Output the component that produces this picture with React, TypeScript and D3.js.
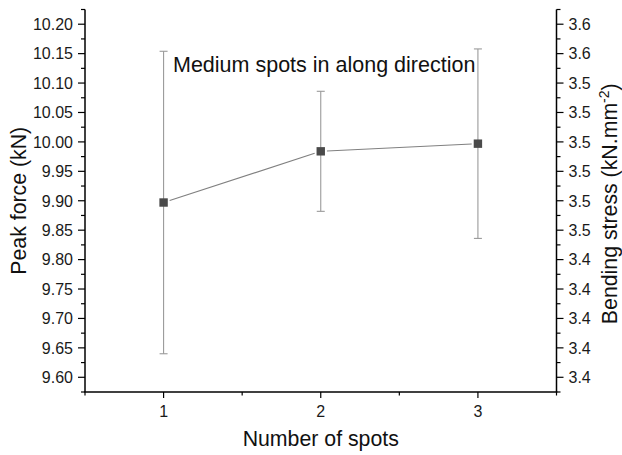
import React from "react";
import * as d3 from "d3";

// Mean peak force per number of spots, with standard deviation
const spots = [1, 2, 3];
const peakForce = [9.897, 9.984, 9.997];
const forceError = [0.257, 0.102, 0.161];

// Left axis ticks (kN) and matching bending-stress labels on the right axis
const forceTicks = [9.6, 9.65, 9.7, 9.75, 9.8, 9.85, 9.9, 9.95, 10.0, 10.05, 10.1, 10.15, 10.2];
const stressTickLabels = ["3.4", "3.4", "3.4", "3.4", "3.4", "3.5", "3.5", "3.5", "3.5", "3.5", "3.5", "3.6", "3.6"];
const spotTicks = [1, 2, 3];

const W = 622;
const H = 455;
const left = 85;
const right = 556.5;
const top = 9.5;
const bottom = 392;
const FONT = "'Liberation Sans', Arial, sans-serif";

export default function App() {
  const x = d3.scaleLinear().domain([0.5, 3.5]).range([left, right]);
  const y = d3.scaleLinear().domain([9.575, 10.225]).range([bottom, top]);

  const minorY = d3.range(0, 27).map((i) => 9.575 + i * 0.025).filter((v, i) => i % 2 === 0);
  const minorX = [0.5, 1.5, 2.5, 3.5];

  const pts = spots.map((s, i) => ({ px: x(s), py: y(peakForce[i]) }));
  const half = 4.2;
  const gap = 2;
  const segments = pts.slice(1).map((p, i) => {
    const a = pts[i];
    const dx = p.px - a.px;
    const dy = p.py - a.py;
    const len = Math.hypot(dx, dy);
    const ux = dx / len;
    const uy = dy / len;
    const off = half / Math.max(Math.abs(ux), Math.abs(uy)) + gap;
    return {
      x1: a.px + ux * off,
      y1: a.py + uy * off,
      x2: p.px - ux * off,
      y2: p.py - uy * off,
    };
  });

  return (
    <svg
      width={W}
      height={H}
      style={{ position: "absolute", left: 0, top: 0, background: "#fff" }}
      fontFamily={FONT}
    >
      {/* error bars */}
      {spots.map((s, i) => {
        const cx = x(s);
        const y1 = y(peakForce[i] + forceError[i]);
        const y2 = y(peakForce[i] - forceError[i]);
        return (
          <g key={"e" + i} stroke="#9a9a9a" strokeWidth={1.1}>
            <line x1={cx} x2={cx} y1={y1} y2={y2} />
            <line x1={cx - 4} x2={cx + 4} y1={y1} y2={y1} />
            <line x1={cx - 4} x2={cx + 4} y1={y2} y2={y2} />
          </g>
        );
      })}

      {/* connecting line */}
      {segments.map((sg, i) => (
        <line key={"l" + i} {...sg} stroke="#808080" strokeWidth={1.1} />
      ))}

      {/* markers */}
      {pts.map((p, i) => (
        <rect key={"m" + i} x={p.px - half} y={p.py - half} width={half * 2} height={half * 2} fill="#4a4a4a" />
      ))}

      {/* axes frame */}
      <g stroke="#000" strokeWidth={1.5} fill="none">
        <line x1={left} x2={left} y1={top} y2={bottom} />
        <line x1={right} x2={right} y1={top} y2={bottom} />
        <line x1={left - 0.75} x2={right + 0.75} y1={bottom} y2={bottom} />
      </g>

      {/* left & right ticks */}
      <g stroke="#000" strokeWidth={1.2}>
        {forceTicks.map((t) => (
          <g key={"yt" + t}>
            <line x1={left - 7} x2={left} y1={y(t)} y2={y(t)} />
            <line x1={right} x2={right + 7} y1={y(t)} y2={y(t)} />
          </g>
        ))}
        {minorY.map((t) => (
          <g key={"ym" + t}>
            <line x1={left - 4} x2={left} y1={y(t)} y2={y(t)} />
            <line x1={right} x2={right + 4} y1={y(t)} y2={y(t)} />
          </g>
        ))}
        {spotTicks.map((t) => (
          <line key={"xt" + t} x1={x(t)} x2={x(t)} y1={bottom} y2={bottom + 6} />
        ))}
        {minorX.map((t) => (
          <line key={"xm" + t} x1={x(t)} x2={x(t)} y1={bottom} y2={bottom + 3.5} />
        ))}
      </g>

      {/* tick labels */}
      <g fontSize={16} fill="#1a1a1a">
        {forceTicks.map((t) => (
          <text key={"yl" + t} x={left - 12} y={y(t)} dy="0.36em" textAnchor="end">
            {t.toFixed(2)}
          </text>
        ))}
        {forceTicks.map((t, i) => (
          <text key={"yr" + t} x={right + 12} y={y(t)} dy="0.36em" textAnchor="start">
            {stressTickLabels[i]}
          </text>
        ))}
        {spotTicks.map((t) => (
          <text key={"xl" + t} x={x(t)} y={417} textAnchor="middle">
            {t}
          </text>
        ))}
      </g>

      {/* title inside plot */}
      <text x={173} y={71.5} fontSize={21.5} fill="#111">
        Medium spots in along direction
      </text>

      {/* axis titles */}
      <text x={(left + right) / 2} y={446} fontSize={21.3} textAnchor="middle" fill="#111">
        Number of spots
      </text>
      <text
        transform={`translate(25.5,${(top + bottom) / 2}) rotate(-90)`}
        fontSize={21.3}
        textAnchor="middle"
        fill="#111"
      >
        Peak force (kN)
      </text>
      <text
        transform={`translate(616.5,${(top + bottom) / 2 + 3}) rotate(-90)`}
        fontSize={21.3}
        textAnchor="middle"
        fill="#111"
      >
        Bending stress (kN.mm
        <tspan dy={-8} fontSize={14}>-2</tspan>
        <tspan dy={8}>)</tspan>
      </text>
    </svg>
  );
}
